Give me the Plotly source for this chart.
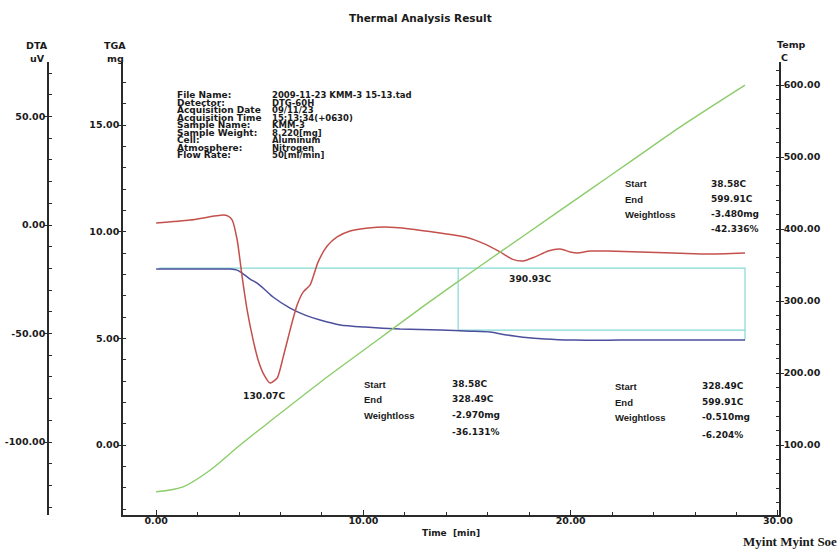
import plotly.graph_objects as go

W, H = 840, 550


def px(x):
    return x / W


def py(y):
    return 1 - y / H


# ---------------- data ----------------
# DTA curve (uV) vs time (min)
time_dta = [0.0, 1.64, 3.23, 3.47, 3.67, 3.91, 4.15, 4.39, 4.68, 4.92, 5.16, 5.50,
            5.84, 6.13, 6.46, 6.80, 7.09, 7.43, 7.81, 8.25, 8.73, 9.36, 10.23, 11.05,
            12.25, 13.70, 14.91, 15.87, 16.59, 17.17, 17.70, 18.28, 18.91, 19.49,
            19.97, 20.31, 20.94, 21.76, 23.35, 24.94, 26.58, 28.41]
dta_uv = [0.9, 2.3, 4.6, 4.1, 2.3, -6.9, -24.0, -39.2, -53.0, -62.2, -68.2, -72.8,
          -70.5, -60.8, -48.4, -36.9, -30.9, -27.6, -17.1, -9.7, -5.5, -2.8, -1.4, -0.9,
          -1.8, -3.7, -5.5, -8.8, -12.4, -15.7, -16.6, -14.7, -12.0, -11.1,
          -12.4, -12.9, -12.0, -12.0, -12.4, -12.9, -13.4, -12.9]

# TGA curve (mg) vs time (min)
time_tga = [0.0, 2.07, 3.57, 3.91, 4.15, 4.53, 4.87, 5.26, 5.64, 6.46, 7.19, 7.91,
            8.88, 10.08, 11.77, 13.70, 15.15, 16.11, 16.93, 17.70, 18.77, 20.12,
            22.38, 25.28, 28.41]
tga_mg = [8.25, 8.25, 8.25, 8.20, 8.06, 7.78, 7.59, 7.27, 6.94, 6.42, 6.09, 5.86,
          5.63, 5.53, 5.44, 5.39, 5.34, 5.30, 5.16, 5.06, 4.97, 4.92,
          4.92, 4.92, 4.92]

# Temperature (C) vs time (min)
time_temp = [0.0, 1.3, 2.6, 4.05, 5.5, 8.0, 10.5, 13.0, 15.6, 17.7, 20.9, 23.0, 25.5, 28.41]
temp_c = [35, 42, 65, 100, 133, 189, 242, 295, 348, 390, 454, 496, 546, 600]

# Step analysis markers (time in min, TGA in mg)
step_start_time = 0.15
step_split_time = 14.57
step_end_time = 28.41
tga_initial = 8.3
tga_mid = 5.39
tga_final = 4.92

# Peak labels
peak_times = [5.50, 17.70]
peak_labels = ["130.07C", "390.93C"]

# Tick values / labels
time_ticks = [0, 10, 20, 30]
time_ticktext = ["0.00", "10.00", "20.00", "30.00"]
tga_ticks = [0, 5, 10, 15]
tga_ticktext = ["0.00", "5.00", "10.00", "15.00"]
dta_ticks = [-100, -50, 0, 50]
dta_ticktext = ["-100.00", "-50.00", "0.00", "50.00"]
temp_ticks = [100, 200, 300, 400, 500, 600]
temp_ticktext = ["100.00", "200.00", "300.00", "400.00", "500.00", "600.00"]

info_labels = ["File Name:", "Detector:", "Acquisition Date", "Acquisition Time",
               "Sample Name:", "Sample Weight:", "Cell:", "Atmosphere:", "Flow Rate:"]
info_values = ["2009-11-23 KMM-3 15-13.tad", "DTG-60H", "09/11/23", "15:13:34(+0630)",
               "KMM-3", "8.220[mg]", "Aluminum", "Nitrogen", "50[ml/min]"]

block_labels = ["Start", "End", "Weightloss", ""]
block1_values = ["38.58C", "599.91C", "-3.480mg", "-42.336%"]
block2_values = ["38.58C", "328.49C", "-2.970mg", "-36.131%"]
block3_values = ["328.49C", "599.91C", "-0.510mg", "-6.204%"]

# ---------------- colours / fonts ----------------
RED = "#c4504c"
BLUE = "#4b4f9c"
CYAN = "#86d9d6"
GREEN = "#8ccc6a"
AXIS = "#2a2a2a"
TXT = "#1a1a1a"
WIDE = "DejaVu Sans, Verdana, sans-serif"
ARIAL = "Liberation Sans, Arial, sans-serif"

fig = go.Figure()

fig.add_trace(go.Scatter(x=time_temp, y=temp_c, mode="lines", yaxis="y3",
                         line=dict(color=GREEN, width=1.4, shape="spline", smoothing=0.8),
                         hoverinfo="skip"))

step_x = [step_start_time, step_end_time, step_end_time, None,
          step_split_time, step_split_time, step_end_time]
step_y = [tga_initial, tga_initial, tga_final, None,
          tga_initial, tga_mid, tga_mid]
fig.add_trace(go.Scatter(x=step_x, y=step_y, mode="lines", yaxis="y",
                         line=dict(color=CYAN, width=1.2), hoverinfo="skip"))

fig.add_trace(go.Scatter(x=time_tga, y=tga_mg, mode="lines", yaxis="y",
                         line=dict(color=BLUE, width=1.5, shape="spline", smoothing=0.6),
                         hoverinfo="skip"))

fig.add_trace(go.Scatter(x=time_dta, y=dta_uv, mode="lines", yaxis="y2",
                         line=dict(color=RED, width=1.5, shape="spline", smoothing=0.6),
                         hoverinfo="skip"))

tickfont = dict(family=WIDE, size=9.5, color=TXT, weight="bold")


def yaxis_common(ticks, text, minor_dtick):
    return dict(showline=True, linecolor=AXIS, linewidth=1.5,
                ticks="outside", ticklen=3, tickcolor=AXIS,
                tickmode="array", tickvals=ticks, ticktext=text,
                minor=dict(dtick=minor_dtick, tick0=0, ticks="inside", ticklen=3,
                           tickcolor=AXIS),
                showgrid=False, zeroline=False, tickfont=tickfont, automargin=False)


fig.update_layout(
    width=W, height=H,
    margin=dict(l=0, r=0, t=0, b=0),
    paper_bgcolor="white", plot_bgcolor="white",
    showlegend=False,
    xaxis=dict(domain=[px(123), px(779)], range=[-1.6, 30.05], anchor="y",
               showline=True, linecolor=AXIS, linewidth=1.5,
               ticks="inside", ticklen=5, tickcolor=AXIS, tickwidth=1,
               tickmode="array", tickvals=time_ticks, ticktext=time_ticktext,
               minor=dict(dtick=2, tick0=0, ticks="inside", ticklen=3, tickcolor=AXIS),
               showgrid=False, zeroline=False, tickfont=tickfont, automargin=False,
               ticklabelstandoff=-4),
    yaxis=dict(domain=[py(515), py(62)], range=[-3.28, 17.96], anchor="x",
               ticklabelstandoff=-3, **yaxis_common(tga_ticks, tga_ticktext, 1)),
    yaxis2=dict(overlaying="y", anchor="free", position=px(48), side="left",
                range=[-133.6, 75.1], ticklabelstandoff=-3,
                **yaxis_common(dta_ticks, dta_ticktext, 10)),
    yaxis3=dict(overlaying="y", anchor="x", side="right",
                range=[2.8, 632], ticklabelstandoff=-2,
                **yaxis_common(temp_ticks, temp_ticktext, 20)),
)

annotations = []


def note(text, x, y, size=10, xanchor="left", family=WIDE, bold=True, color=TXT):
    annotations.append(dict(text=text, x=px(x), y=py(y), xref="paper", yref="paper",
                            xanchor=xanchor, yanchor="middle", showarrow=False,
                            font=dict(family=family, size=size, color=color,
                                      weight="bold" if bold else "normal")))


note("Thermal Analysis Result", 420, 18, size=10.5, xanchor="center")
note("DTA", 37, 46, size=9.5, xanchor="center")
note("uV", 37, 58, size=9.5, xanchor="center")
note("TGA", 115, 46, size=9.5, xanchor="center")
note("mg", 115, 58, size=9.5, xanchor="center")
note("Temp", 775, 45, size=9.5, xanchor="left")
note("C", 779, 57, size=9.5, xanchor="left")

for i, (lab, val) in enumerate(zip(info_labels, info_values)):
    yy = 95 + i * 7.5
    note(lab, 175, yy, size=9)
    note(val, 270, yy, size=8.5)

# peak labels
for t, lab, yy in zip(peak_times, peak_labels, [395, 278]):
    xx = 156 + t * 20.73
    note(lab, xx - 6 if t < 10 else xx + 7, yy, size=9.2, xanchor="center")

blocks = [(block1_values, 623, 709, [184, 199, 214, 229]),
          (block2_values, 362, 450, [384, 399, 415, 432]),
          (block3_values, 613, 700, [386, 402, 417, 435])]
for vals, lx, vx, ys in blocks:
    for lab, val, yy in zip(block_labels, vals, ys):
        if lab:
            note(lab, lx, yy, size=9.5, family=ARIAL)
        note(val, vx, yy, size=9)

note("Time  [min]", 451, 533, size=9, xanchor="center")
note("Myint Myint Soe", 839, 541, size=13, xanchor="right",
     family="Liberation Serif, Times New Roman, serif")

fig.update_layout(annotations=annotations)

fig.write_html("out.html",
               config={"displayModeBar": False},
               post_script="document.body.style.margin='0';document.body.style.padding='0';")
